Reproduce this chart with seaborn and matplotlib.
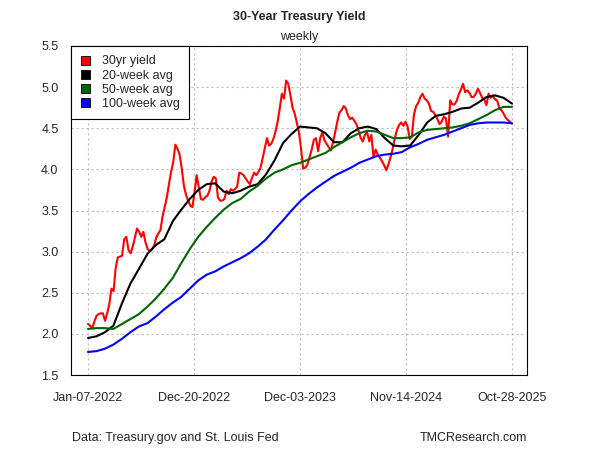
#Import packages
import pandas as pd
import matplotlib
matplotlib.use("Agg")
import matplotlib.pyplot as plt
from matplotlib.patches import Patch, Rectangle
from matplotlib.legend_handler import HandlerPatch
import seaborn as sns

#Values
yield_30 = [2.12, 2.10, 2.07, 2.15, 2.22, 2.24, 2.25, 2.25, 2.16, 2.25,
            2.36, 2.55, 2.52, 2.80, 2.93, 2.94, 2.95, 3.15, 3.18, 3.02,
            2.98, 3.06, 3.17, 3.28, 3.24, 3.18, 3.24, 3.11, 3.03, 3.01,
            3.03, 3.07, 3.17, 3.22, 3.26, 3.43, 3.54, 3.66, 3.82, 3.97,
            4.09, 4.30, 4.25, 4.18, 4.01, 3.80, 3.69, 3.62, 3.56, 3.54,
            3.72, 3.93, 3.78, 3.64, 3.63, 3.66, 3.68, 3.74, 3.85, 3.91,
            3.89, 3.66, 3.62, 3.62, 3.64, 3.74, 3.70, 3.76, 3.74, 3.76,
            3.79, 3.96, 3.95, 3.93, 3.89, 3.85, 3.82, 3.90, 3.96, 3.93,
            3.97, 4.02, 4.14, 4.26, 4.38, 4.29, 4.31, 4.37, 4.46, 4.58,
            4.74, 4.92, 4.86, 5.08, 5.04, 4.90, 4.75, 4.68, 4.57, 4.45,
            4.25, 4.01, 4.02, 4.06, 4.15, 4.24, 4.36, 4.38, 4.22, 4.38,
            4.45, 4.35, 4.31, 4.27, 4.23, 4.33, 4.45, 4.58, 4.69, 4.72,
            4.77, 4.74, 4.66, 4.61, 4.63, 4.59, 4.55, 4.47, 4.38, 4.34,
            4.42, 4.45, 4.34, 4.42, 4.15, 4.24, 4.18, 4.14, 4.10, 4.05,
            3.99, 4.06, 4.15, 4.25, 4.38, 4.48, 4.54, 4.57, 4.53, 4.58,
            4.52, 4.37, 4.40, 4.67, 4.77, 4.81, 4.88, 4.92, 4.86, 4.84,
            4.80, 4.71, 4.70, 4.66, 4.61, 4.55, 4.58, 4.64, 4.62, 4.40,
            4.84, 4.79, 4.79, 4.83, 4.91, 4.97, 5.04, 4.94, 4.96, 4.93,
            4.88, 4.88, 4.92, 4.98, 4.93, 4.87, 4.85, 4.78, 4.92, 4.87,
            4.90, 4.85, 4.84, 4.75, 4.72, 4.68, 4.63, 4.60, 4.58, 4.56]

avg_20 = [1.95, 1.97, 2.02, 2.10, 2.37, 2.61, 2.79, 2.97, 3.08, 3.15,
          3.37, 3.51, 3.64, 3.75, 3.82, 3.83, 3.73, 3.71, 3.74, 3.79,
          3.82, 3.94, 4.11, 4.32, 4.43, 4.52, 4.51, 4.50, 4.44, 4.33,
          4.33, 4.44, 4.50, 4.52, 4.49, 4.38, 4.29, 4.28, 4.29, 4.42,
          4.57, 4.65, 4.67, 4.70, 4.74, 4.75, 4.81, 4.88, 4.90, 4.87,
          4.80]

avg_50 = [2.06, 2.07, 2.07, 2.06, 2.12, 2.18, 2.24, 2.33, 2.43, 2.55,
          2.68, 2.86, 3.03, 3.18, 3.30, 3.41, 3.51, 3.59, 3.64, 3.73,
          3.80, 3.89, 3.96, 4.00, 4.05, 4.08, 4.12, 4.16, 4.20, 4.27,
          4.33, 4.39, 4.44, 4.47, 4.46, 4.42, 4.38, 4.38, 4.39, 4.45,
          4.48, 4.49, 4.50, 4.51, 4.53, 4.56, 4.61, 4.66, 4.72, 4.76,
          4.76]

avg_100 = [1.78, 1.79, 1.82, 1.87, 1.94, 2.02, 2.09, 2.13, 2.21, 2.30,
           2.38, 2.45, 2.55, 2.65, 2.72, 2.76, 2.82, 2.87, 2.92, 2.98,
           3.06, 3.15, 3.27, 3.38, 3.50, 3.61, 3.70, 3.78, 3.85, 3.92,
           3.97, 4.02, 4.08, 4.12, 4.16, 4.18, 4.19, 4.21, 4.27, 4.31,
           4.36, 4.39, 4.42, 4.46, 4.50, 4.54, 4.56, 4.57, 4.57, 4.57,
           4.56]

series_names = ["30yr yield", "20-week avg", "50-week avg", "100-week avg"]
series_colors = ["#FF0000", "#000000", "#006400", "#0000FF"]
tick_dates = ["2022-01-07", "2022-12-20", "2023-12-03", "2024-11-14", "2025-10-28"]
y_ticks = [1.5, 2.0, 2.5, 3.0, 3.5, 4.0, 4.5, 5.0, 5.5]
start, end = "2022-01-07", "2025-10-28"

#Build one long table for seaborn
weekly = pd.date_range(start, end, periods=len(yield_30))
coarse = pd.date_range(start, end, periods=len(avg_20))
df = pd.concat([
    pd.DataFrame({"date": weekly, "value": yield_30, "series": series_names[0]}),
    pd.DataFrame({"date": coarse, "value": avg_20, "series": series_names[1]}),
    pd.DataFrame({"date": coarse, "value": avg_50, "series": series_names[2]}),
    pd.DataFrame({"date": coarse, "value": avg_100, "series": series_names[3]}),
])

sns.set_style("white")
plt.rcParams['font.family'] = ['Liberation Sans', 'DejaVu Sans']
plt.rcParams['font.size'] = 9

fig = plt.figure(figsize=(6, 4.5), dpi=100)
ax = fig.add_axes([71/600, 1-375/450, 456/600, 329/450])

sns.lineplot(data=df, x="date", y="value", hue="series", hue_order=series_names,
             palette=series_colors, estimator=None, linewidth=1.5, legend=False, ax=ax)

#Axes, ticks and grid in the style of R base graphics
t0, t1 = pd.Timestamp(start), pd.Timestamp(end)
span = (t1 - t0).days
ax.set_xlim(t0 - pd.Timedelta(days=span*17/424), t1 + pd.Timedelta(days=span*15/424))
ax.set_ylim(1.5, 5.5)
ticks = pd.to_datetime(tick_dates)
ax.set_xticks(ticks)
ax.set_xticklabels([t.strftime("%b-%d-%Y") for t in ticks])
ax.set_yticks(y_ticks)
ax.set_yticklabels([f"{v:.1f}" for v in y_ticks])
ax.set_xlabel("")
ax.set_ylabel("")
ax.grid(True, color="#BEBEBE", linestyle=(0, (2, 2.5)), linewidth=0.8)
ax.set_axisbelow(True)
for s in ax.spines.values():
    s.set_color("black")
    s.set_linewidth(0.8)
ax.tick_params(direction="out", length=5, width=0.8, color="black", labelsize=9)
ax.tick_params(axis="x", pad=7)
ax.tick_params(axis="y", pad=4)

#Legend with small filled squares
def square(legend, orig_handle, xdescent, ydescent, width, height, fontsize):
    side = 0.72 * fontsize
    return Rectangle((width - side - xdescent, (height - side) / 2 - ydescent), side, side)

handles = [Patch(facecolor=c, edgecolor="black", linewidth=0.6) for c in series_colors]
leg = ax.legend(handles, series_names, loc="upper left", bbox_to_anchor=(0, 1),
                borderaxespad=0, fancybox=False, edgecolor="black", framealpha=1,
                handlelength=0.75, handleheight=0.75, handletextpad=0.95,
                borderpad=0.75, labelspacing=0.17, fontsize=9,
                handler_map={Patch: HandlerPatch(patch_func=square)})
leg.get_frame().set_linewidth(0.8)

#Titles and footer
fig.text(299/600, 1-17/450, "30-Year Treasury Yield", ha="center", va="center", fontweight="bold", fontsize=9)
fig.text(299/600, 1-37/450, "weekly", ha="center", va="center", fontsize=9)
fig.text(72/600, 1-438/450, "Data: Treasury.gov and St. Louis Fed", ha="left", va="center", fontsize=9)
fig.text(527/600, 1-438/450, "TMCResearch.com", ha="right", va="center", fontsize=9)

fig.savefig("out.png", dpi=100)
